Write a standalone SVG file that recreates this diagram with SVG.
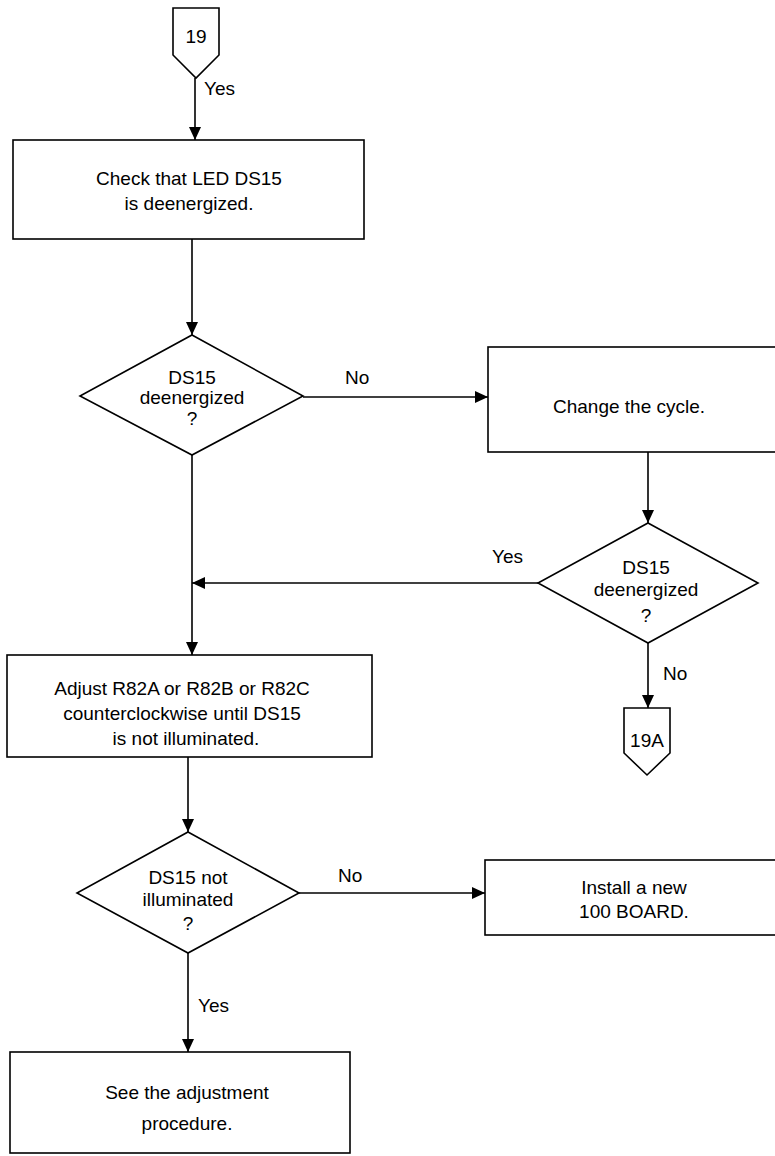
<svg xmlns="http://www.w3.org/2000/svg" width="775" height="1156" viewBox="0 0 775 1156">
<style>
.s{fill:#fff;stroke:#000;stroke-width:1.6}
.c{fill:none;stroke:#000;stroke-width:1.6}
text{font-family:"Liberation Sans",Arial,sans-serif;font-size:19px;fill:#000}
.m{text-anchor:middle}
</style>
<defs>
<marker id="ah" markerUnits="userSpaceOnUse" markerWidth="14" markerHeight="12" refX="13" refY="6" orient="auto" viewBox="0 0 14 12">
<path d="M0,0 L13,6 L0,12 z" fill="#000"/>
</marker>
</defs>
<rect width="775" height="1156" fill="#fff"/>
<g id="connectors">
<path class="c" d="M195,78 L195,140" marker-end="url(#ah)"/>
<path class="c" d="M192,239 L192,335" marker-end="url(#ah)"/>
<path class="c" d="M303,397 L488,397" marker-end="url(#ah)"/>
<path class="c" d="M648,452 L648,523" marker-end="url(#ah)"/>
<path class="c" d="M538,583 L192,583" marker-end="url(#ah)"/>
<path class="c" d="M648,643 L648,708" marker-end="url(#ah)"/>
<path class="c" d="M192,455 L192,655" marker-end="url(#ah)"/>
<path class="c" d="M188,757 L188,832" marker-end="url(#ah)"/>
<path class="c" d="M299,893 L485,893" marker-end="url(#ah)"/>
<path class="c" d="M188,953 L188,1052" marker-end="url(#ah)"/>
<text x="204" y="95">Yes</text>
<text x="345" y="384">No</text>
<text x="492" y="563">Yes</text>
<text x="663" y="680">No</text>
<text x="338" y="882">No</text>
<text x="198" y="1012">Yes</text>
</g>
<g id="n19">
<path class="s" d="M173,8 L219,8 L219,55 L196,78 L173,55 z"/>
<text class="m" x="196" y="43">19</text>
</g>
<g id="check">
<rect class="s" x="13" y="140" width="351" height="99"/>
<text class="m" x="189" y="185">Check that LED DS15</text>
<text class="m" x="189" y="210">is deenergized.</text>
</g>
<g id="dec1">
<path class="s" d="M192,335 L303,396 L192,455 L80,396 z"/>
<text class="m" x="192" y="384">DS15</text>
<text class="m" x="192" y="404">deenergized</text>
<text class="m" x="192" y="425">?</text>
</g>
<g id="change">
<rect class="s" x="488" y="347" width="300" height="105"/>
<text class="m" x="629" y="413">Change the cycle.</text>
</g>
<g id="dec2">
<path class="s" d="M648,523 L758,583 L648,643 L538,583 z"/>
<text class="m" x="646" y="574">DS15</text>
<text class="m" x="646" y="596">deenergized</text>
<text class="m" x="646" y="622">?</text>
</g>
<g id="n19A">
<path class="s" d="M624,708 L670,708 L670,753 L647,775 L624,753 z"/>
<text class="m" x="647" y="747">19A</text>
</g>
<g id="adjust">
<rect class="s" x="7" y="655" width="365" height="102"/>
<text class="m" x="182" y="695">Adjust R82A or R82B or R82C</text>
<text class="m" x="182" y="720">counterclockwise until DS15</text>
<text class="m" x="186" y="745">is not illuminated.</text>
</g>
<g id="dec3">
<path class="s" d="M188,832 L299,893 L188,953 L77,893 z"/>
<text class="m" x="188" y="884">DS15 not</text>
<text class="m" x="188" y="906">illuminated</text>
<text class="m" x="188" y="930">?</text>
</g>
<g id="install">
<rect class="s" x="485" y="860" width="305" height="75"/>
<text class="m" x="634" y="894">Install a new</text>
<text class="m" x="634" y="918">100 BOARD.</text>
</g>
<g id="see">
<rect class="s" x="10" y="1052" width="340" height="101"/>
<text class="m" x="187" y="1099">See the adjustment</text>
<text class="m" x="187" y="1130">procedure.</text>
</g>
</svg>
